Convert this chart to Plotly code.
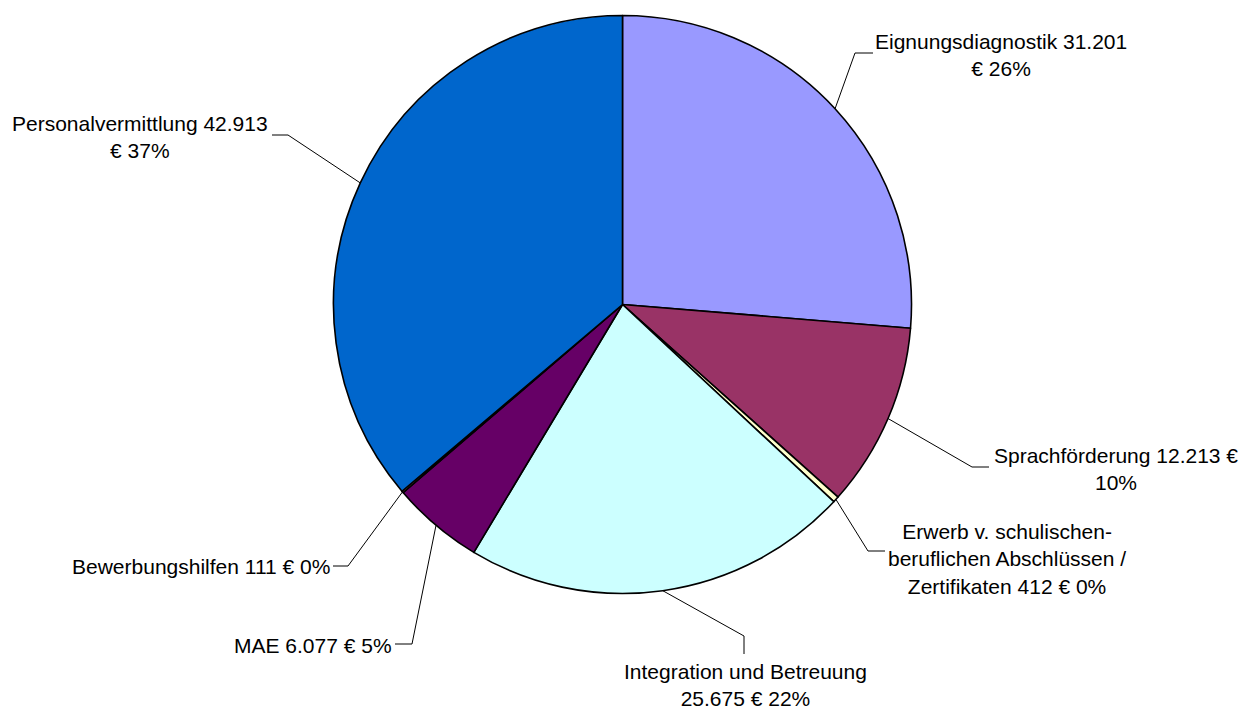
import math
import plotly.graph_objects as go

# ---- data ----
categories = ["Eignungsdiagnostik", "Sprachförderung",
              "Erwerb v. schulischen-beruflichen Abschlüssen / Zertifikaten",
              "Integration und Betreuung", "MAE", "Bewerbungshilfen",
              "Personalvermittlung"]
values = [31201, 12213, 412, 25675, 6077, 111, 42913]
pct_labels = ["26%", "10%", "0%", "22%", "5%", "0%", "37%"]
colors = ["#9999FF", "#993366", "#FFFFCC", "#CCFFFF", "#660066", "#FF8080", "#0066CC"]

# label templates (line breaks as in the original)
templates = [
    "Eignungsdiagnostik {v}<br>€ {p}",
    "Sprachförderung {v} €<br>{p}",
    "Erwerb v. schulischen-<br>beruflichen Abschlüssen /<br>Zertifikaten {v} € {p}",
    "Integration und Betreuung<br>{v} € {p}",
    "MAE {v} € {p}",
    "Bewerbungshilfen {v} € {p}",
    "Personalvermittlung {v}<br>€ {p}",
]

# ---- layout (pixels) ----
W, H = 1260, 709
CX, CY, R = 622.5, 304.5, 289
# text position, anchor, elbow point, end point of leader
label_layout = [
    dict(tx=1001, ty=55, xa="center", elbow=(855, 53), end=(873, 53)),
    dict(tx=1116, ty=469, xa="center", elbow=(972, 467), end=(989, 467)),
    dict(tx=1007, ty=559, xa="center", elbow=(868, 551), end=(885, 551)),
    dict(tx=745, ty=685, xa="center", elbow=(744, 636), end=(744, 654)),
    dict(tx=394, ty=645, xa="right", elbow=(412, 644), end=(395, 644)),
    dict(tx=332, ty=566, xa="right", elbow=(348, 566), end=(333, 566)),
    dict(tx=140, ty=137, xa="center", elbow=(288, 135), end=(272, 135)),
]

def px(x):
    return x / W

def py(y):
    return 1 - y / H

fig = go.Figure(go.Pie(
    labels=categories, values=values, sort=False, direction="clockwise",
    rotation=0, textinfo="none", hoverinfo="label+value+percent",
    marker=dict(colors=colors, line=dict(color="black", width=1.6)),
    domain=dict(x=[px(CX - R), px(CX + R)], y=[py(CY + R), py(CY - R)]),
    showlegend=False,
))

total = sum(values)
cum = 0
annotations = []
shapes = []
for i, v in enumerate(values):
    mid = (cum + v / 2) / total * 2 * math.pi
    cum += v
    ex = CX + R * math.sin(mid)
    ey = CY - R * math.cos(mid)
    L = label_layout[i]
    vtxt = f"{v:,}".replace(",", ".")
    text = templates[i].format(v=vtxt, p=pct_labels[i])
    annotations.append(dict(
        x=px(L["tx"]), y=py(L["ty"]), xref="paper", yref="paper",
        text=text, showarrow=False, xanchor=L["xa"], yanchor="middle",
        align="center", font=dict(family="Liberation Sans, Arial", size=21, color="black"),
    ))
    (bx, by), (fx, fy) = L["elbow"], L["end"]
    path = f"M {px(ex)} {py(ey)} L {px(bx)} {py(by)} L {px(fx)} {py(fy)}"
    shapes.append(dict(type="path", xref="paper", yref="paper", path=path,
                       line=dict(color="black", width=1)))

fig.update_layout(
    width=W, height=H, margin=dict(l=0, r=0, t=0, b=0),
    paper_bgcolor="white", plot_bgcolor="white",
    annotations=annotations, shapes=shapes,
)

fig.write_html(
    "out.html",
    config={"displayModeBar": False},
    post_script="document.body.style.margin='0';document.body.style.overflow='hidden';",
)
